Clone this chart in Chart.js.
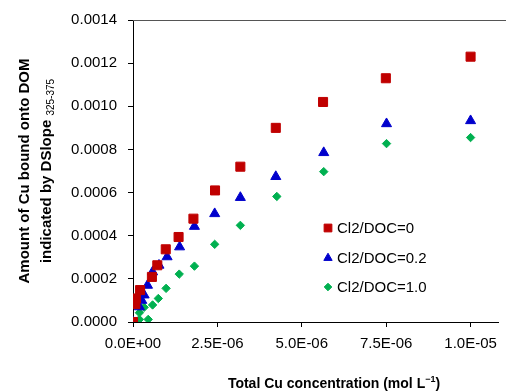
<!DOCTYPE html>
<html lang="en">
<head>
    <meta charset="UTF-8">
    <title>Cu bound onto DOM</title>
    <script src="https://cdn.jsdelivr.net/npm/chart.js"></script>
    <style>
        html, body { margin: 0; padding: 0; background: #fff; }
        #wrap { width: 506px; height: 391px; }
    </style>
</head>
<body>
    <div id="wrap"><canvas id="cuChart" width="506" height="391"></canvas></div>

    <script>
        // Total Cu (mol/L) and bound Cu for each Cl2/DOC ratio
        const totalCu0 = [0, 0.07e-6, 0.09e-6, 0.21e-6, 0.56e-6, 0.72e-6, 0.97e-6, 1.35e-6, 1.79e-6, 2.43e-6, 3.18e-6, 4.23e-6, 5.63e-6, 7.49e-6, 1.0e-5];
        const bound0   = [0, 0.000083, 0.000109, 0.000148, 0.000209, 0.000263, 0.000337, 0.000394, 0.000479, 0.00061, 0.00072, 0.0009, 0.00102, 0.00113, 0.00123];

        const totalCu02 = [0, 0.19e-6, 0.26e-6, 0.33e-6, 0.43e-6, 0.58e-6, 0.77e-6, 1.01e-6, 1.38e-6, 1.82e-6, 2.42e-6, 3.18e-6, 4.23e-6, 5.65e-6, 7.51e-6, 1.0e-5];
        const bound02   = [0, 0.00007, 0.0001, 0.000125, 0.00017, 0.000232, 0.000263, 0.000302, 0.000348, 0.000443, 0.000502, 0.000577, 0.000674, 0.000785, 0.000919, 0.000933];

        const totalCu10 = [0, 0.19e-6, 0.45e-6, 0.19e-6, 0.33e-6, 0.58e-6, 0.75e-6, 0.98e-6, 1.37e-6, 1.82e-6, 2.42e-6, 3.18e-6, 4.26e-6, 5.65e-6, 7.51e-6, 1.0e-5];
        const bound10   = [0, 0.000012, 0.000012, 0.000043, 0.000068, 0.000079, 0.000109, 0.000156, 0.000222, 0.000259, 0.00036, 0.000448, 0.000582, 0.000697, 0.000827, 0.000855];

        const seriesLabels = ['Cl2/DOC=0', 'Cl2/DOC=0.2', 'Cl2/DOC=1.0'];
        const xTicks = [0, 2.5e-6, 5.0e-6, 7.5e-6, 1.0e-5];

        const FONT = "'Liberation Sans', Arial, sans-serif";

        function toPoints(xs, ys) {
            return xs.map((x, i) => ({ x: x, y: ys[i] }));
        }

        // 0.0E+00 style labels
        function sciLabel(v) {
            if (Math.abs(v) < 1e-12) return '0.0E+00';
            const parts = v.toExponential(1).split('e');
            let exp = parseInt(parts[1], 10);
            const sign = exp < 0 ? '-' : '+';
            exp = Math.abs(exp);
            return parts[0] + 'E' + sign + (exp < 10 ? '0' + exp : exp);
        }

        // axis titles, plot top border and the legend
        const extras = {
            id: 'extras',
            afterDraw(chart) {
                const ctx = chart.ctx;
                const area = chart.chartArea;
                ctx.save();

                // top border of plot area
                ctx.strokeStyle = '#555';
                ctx.lineWidth = 1;
                ctx.beginPath();
                ctx.moveTo(area.left, area.top + 0.5);
                ctx.lineTo(chart.width, area.top + 0.5);
                ctx.stroke();

                ctx.fillStyle = '#000';

                // y title, two lines, rotated
                ctx.save();
                ctx.translate(0, 171);
                ctx.rotate(-Math.PI / 2);
                ctx.textAlign = 'center';
                ctx.textBaseline = 'alphabetic';
                ctx.font = 'bold 15px ' + FONT;
                ctx.fillText('Amount of Cu bound onto DOM', 0, 29);

                const main = 'indicated by DSlope ';
                const sub = '325-375';
                ctx.font = 'bold 15px ' + FONT;
                const wMain = ctx.measureText(main).width;
                ctx.font = '10px ' + FONT;
                const wSub = ctx.measureText(sub).width;
                const start = -(wMain + wSub) / 2;
                ctx.textAlign = 'left';
                ctx.font = 'bold 15px ' + FONT;
                ctx.fillText(main, start, 51);
                ctx.font = '10px ' + FONT;
                ctx.fillText(sub, start + wMain, 54);
                ctx.restore();

                // x title with superscript
                const xt = 'Total Cu concentration (mol L';
                const sup = '\u22121';
                ctx.font = 'bold 14px ' + FONT;
                const w1 = ctx.measureText(xt).width;
                const w3 = ctx.measureText(')').width;
                ctx.font = 'bold 9px ' + FONT;
                const w2 = ctx.measureText(sup).width;
                let xs = 334 - (w1 + w2 + w3) / 2;
                ctx.textAlign = 'left';
                ctx.textBaseline = 'alphabetic';
                ctx.font = 'bold 14px ' + FONT;
                ctx.fillText(xt, xs, 388);
                ctx.font = 'bold 9px ' + FONT;
                ctx.fillText(sup, xs + w1, 382);
                ctx.font = 'bold 14px ' + FONT;
                ctx.fillText(')', xs + w1 + w2, 388);

                // legend
                const legendY = [228, 258, 287];
                const legendR = [5.5, 4.8, 3.8];
                chart.data.datasets.forEach((ds, i) => {
                    const y = legendY[i];
                    ctx.fillStyle = ds.backgroundColor;
                    ctx.strokeStyle = ds.borderColor;
                    if (Chart.helpers && Chart.helpers.drawPoint) {
                        Chart.helpers.drawPoint(ctx, {
                            pointStyle: ds.pointStyle,
                            radius: legendR[i],
                            rotation: 0,
                            borderWidth: 1
                        }, 328, y);
                    }
                    ctx.fillStyle = '#000';
                    ctx.font = '15px ' + FONT;
                    ctx.textAlign = 'left';
                    ctx.textBaseline = 'middle';
                    ctx.fillText(ds.label, 337, y + 1);
                });

                ctx.restore();
            }
        };

        const ctx = document.getElementById('cuChart').getContext('2d');
        new Chart(ctx, {
            type: 'scatter',
            data: {
                datasets: [
                    {
                        label: seriesLabels[0],
                        data: toPoints(totalCu0, bound0),
                        pointStyle: 'rect',
                        pointRadius: 6.4,
                        backgroundColor: '#c00000',
                        borderColor: '#c00000',
                        borderWidth: 1
                    },
                    {
                        label: seriesLabels[1],
                        data: toPoints(totalCu02, bound02),
                        pointStyle: 'triangle',
                        pointRadius: 5.8,
                        backgroundColor: '#0000cc',
                        borderColor: '#0000cc',
                        borderWidth: 1
                    },
                    {
                        label: seriesLabels[2],
                        data: toPoints(totalCu10, bound10),
                        pointStyle: 'rectRot',
                        pointRadius: 4.2,
                        backgroundColor: '#00b050',
                        borderColor: '#00b050',
                        borderWidth: 1
                    }
                ]
            },
            options: {
                responsive: false,
                animation: false,
                layout: { padding: { top: 20, right: 1, left: 0, bottom: 0 } },
                plugins: {
                    legend: { display: false },
                    tooltip: { enabled: false }
                },
                scales: {
                    x: {
                        type: 'linear',
                        min: 0,
                        max: 1.083e-5,
                        afterFit: (scale) => { scale.height = 69; },
                        afterBuildTicks: (scale) => {
                            scale.ticks = xTicks.map(v => ({ value: v }));
                        },
                        border: { color: '#000', width: 1 },
                        grid: {
                            drawOnChartArea: false,
                            drawTicks: true,
                            tickLength: 5,
                            color: '#000'
                        },
                        ticks: {
                            padding: 8,
                            color: '#000',
                            maxRotation: 0,
                            autoSkip: false,
                            font: { family: FONT, size: 15 },
                            callback: (v) => sciLabel(v)
                        }
                    },
                    y: {
                        type: 'linear',
                        min: 0,
                        max: 0.0014,
                        afterFit: (scale) => { scale.width = 133; },
                        border: { color: '#000', width: 1 },
                        grid: {
                            drawOnChartArea: false,
                            drawTicks: true,
                            tickLength: 5,
                            color: '#000'
                        },
                        ticks: {
                            stepSize: 0.0002,
                            padding: 11,
                            color: '#000',
                            font: { family: FONT, size: 15 },
                            callback: (v) => v.toFixed(4)
                        }
                    }
                }
            },
            plugins: [extras]
        });
    </script>
</body>
</html>
